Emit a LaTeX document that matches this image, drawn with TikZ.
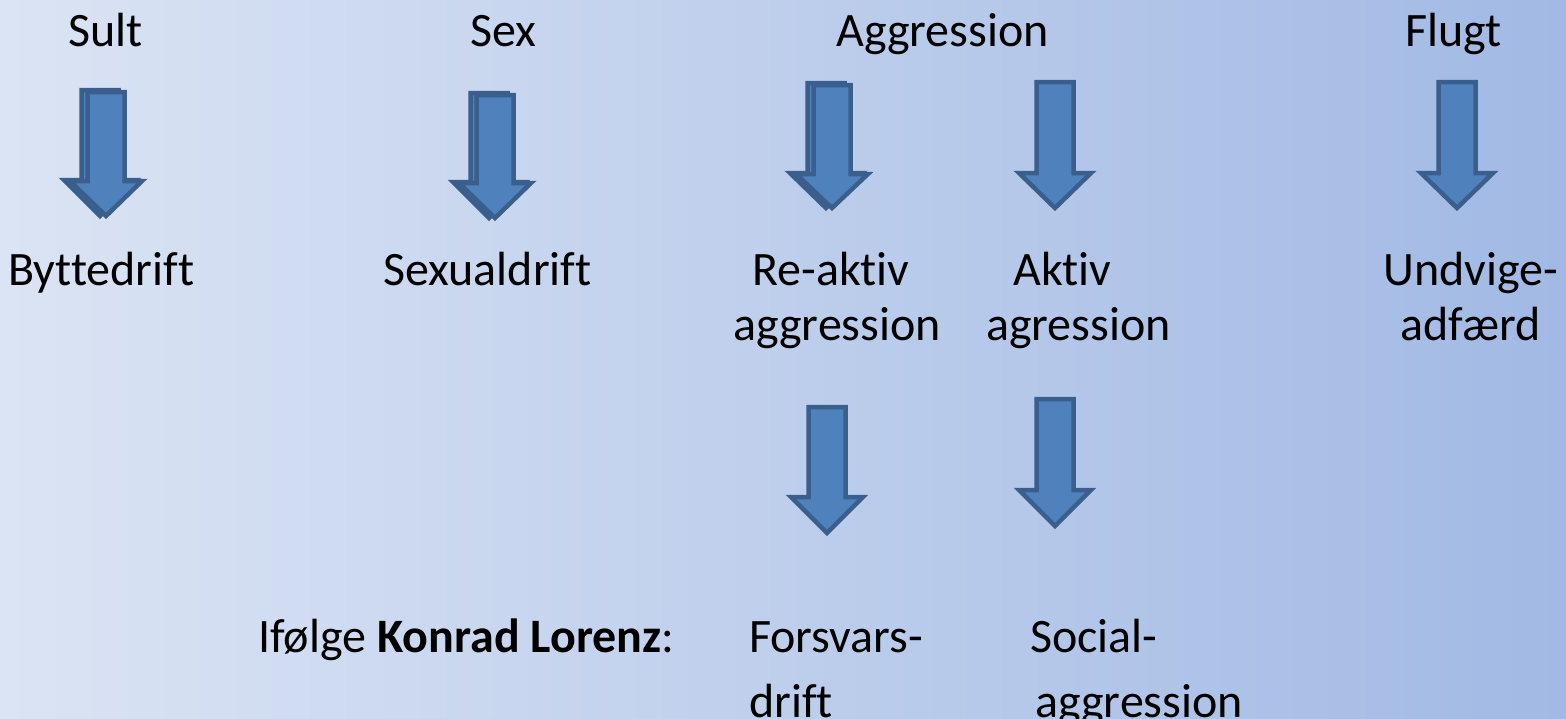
\documentclass[tikz,border=0pt]{standalone}
\usepackage{fontspec}
\setmainfont{Carlito}[Ligatures={NoCommon,TeX}]
\begin{document}
\begin{tikzpicture}[x=1pt,y=-1pt,
  lbl/.style={anchor=base west,inner sep=0pt,font=\fontsize{48}{58}\selectfont},
  blockarrow/.style={fill=arrowfill,draw=arrowline,line width=4.5pt,line join=miter}]
\definecolor{arrowfill}{HTML}{4F81BD}
\definecolor{arrowline}{HTML}{3A5F8C}
\definecolor{bgleft}{HTML}{DBE4F4}
\definecolor{bgright}{HTML}{A1B9E4}
\shade[left color=bgleft,right color=bgright] (0,0) rectangle (1566,718);
\useasboundingbox (0,0) rectangle (1566,718);
% block arrow: #1 center x, #2 top, #3 head start, #4 tip
\newcommand\dnarrow[4]{%
  \draw[blockarrow] (#1-18.5,#2) -- (#1+18.5,#2) -- (#1+18.5,#3) -- (#1+36,#3)
    -- (#1,#4) -- (#1-36,#3) -- (#1-18.5,#3) -- cycle;}
% arrows (double ones have a shifted copy behind)
\dnarrow{100}{90}{180}{216}
\dnarrow{106}{92}{181}{216}
\dnarrow{489}{93}{182}{218}
\dnarrow{495}{95}{183}{218}
\dnarrow{826}{83}{173}{208}
\dnarrow{832}{85}{174}{208}
\dnarrow{1055}{82}{173}{208}
\dnarrow{1457}{82}{173}{208}
\dnarrow{827}{407}{497}{533}
\dnarrow{1055}{399}{490}{526}
% labels
\node[lbl] (sult) at (68,46) {Sult};
\node[lbl] (sex) at (470,46) {Sex};
\node[lbl] (aggr) at (836,46) {Aggression};
\node[lbl] (flugt) at (1405,46) {Flugt};
\node[lbl] (bytte) at (8,285) {Byttedrift};
\node[lbl] (sexual) at (383,285) {Sexualdrift};
\node[lbl] (reaktiv) at (752,285) {Re-aktiv};
\node[lbl] (reaktivb) at (733,340) {aggression};
\node[lbl] (aktiv) at (1013,285) {Aktiv};
\node[lbl] (aktivb) at (986,340) {agression};
\node[lbl] (undv) at (1383,285) {Undvige-};
\node[lbl] (undvb) at (1400,340) {adfærd};
\node[lbl] (lorenz) at (258,652) {Ifølge \textbf{Konrad Lorenz}:};
\node[lbl] (forsv) at (749,652) {Forsvars-};
\node[lbl] (forsvb) at (749,717) {drift};
\node[lbl] (social) at (1030,652) {Social-};
\node[lbl] (socialb) at (1035,717) {aggression};
\end{tikzpicture}
\end{document}
